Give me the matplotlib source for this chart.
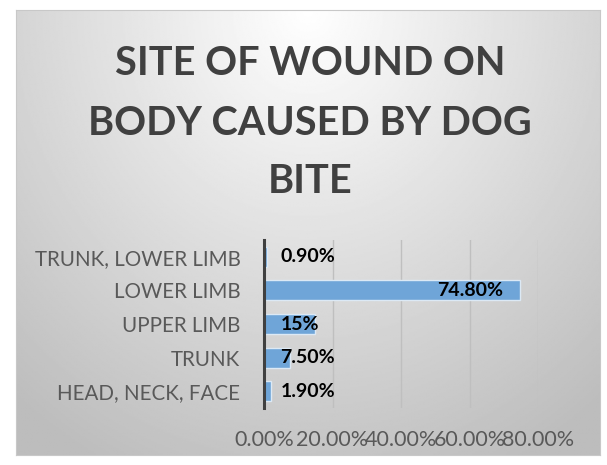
import numpy as np
import matplotlib.pyplot as plt

categories = ["HEAD, NECK, FACE", "TRUNK", "UPPER LIMB", "LOWER LIMB", "TRUNK, LOWER LIMB"]
values = [1.9, 7.5, 15, 74.8, 0.9]
value_labels = ["1.90%", "7.50%", "15%", "74.80%", "0.90%"]
x_ticks = [0, 20, 40, 60, 80]
title_lines = ["SITE OF WOUND ON", "BODY CAUSED BY DOG", "BITE"]

plt.rcParams['font.family'] = ['Lato', 'DejaVu Sans']

fig = plt.figure(figsize=(6.07, 4.65), dpi=100)

# chart area with radial grey gradient
bg = fig.add_axes([16/607, 1-455/465, 584/607, 445/465])
yy, xx = np.mgrid[0:1:300j, 0:1:400j]
r = np.sqrt(((xx - 0.5) / 0.75) ** 2 + ((yy - 0.0) / 1.1) ** 2)
shade = np.clip(1.0 - 0.25 * r, 0.74, 1.0)
bg.imshow(shade, cmap='gray', vmin=0, vmax=1, aspect='auto', extent=[0, 1, 1, 0])
bg.set_xticks([])
bg.set_yticks([])
for s in bg.spines.values():
    s.set_color('#c8c8c8')
    s.set_linewidth(0.8)

# title lines, baselines
for line, base in zip(title_lines, [75, 135, 193]):
    fig.text(310/607, 1 - base/465, line, ha='center', va='baseline',
             fontsize=28.5, fontweight='bold', color='#404040')

ax = fig.add_axes([264/607, 1-408/465, 274/607, 168/465])
ax.patch.set_alpha(0)
y = np.arange(len(categories))
ax.barh(y, values, height=0.6, color='#6fa5d8', edgecolor='#dce9f5', linewidth=1)
ax.set_xlim(0, 80)
ax.set_ylim(-0.5, 4.5)
ax.set_xticks(x_ticks)
ax.set_xticklabels([f"{t:.2f}%" for t in x_ticks])
ax.set_yticks(y)
ax.set_yticklabels(categories)
ax.tick_params(axis='x', length=0, pad=16, labelsize=15.5, labelcolor='#595959')
ax.tick_params(axis='y', length=0, pad=17, labelsize=14.8, labelcolor='#595959')
ax.grid(axis='x', color='#bfbfbf', linewidth=1)
ax.set_axisbelow(True)
for s in ['top', 'right', 'bottom']:
    ax.spines[s].set_visible(False)
ax.spines['left'].set_color('#404040')
ax.spines['left'].set_linewidth(2.2)

for yi, v, lab in zip(y, values, value_labels):
    if v > 40:
        ax.text(v - 5, yi, lab, ha='right', va='center', fontsize=14, fontweight='bold', color='black')
    else:
        ax.text(4.8, yi, lab, ha='left', va='center', fontsize=14, fontweight='bold', color='black')

fig.savefig('out.png', dpi=100)
